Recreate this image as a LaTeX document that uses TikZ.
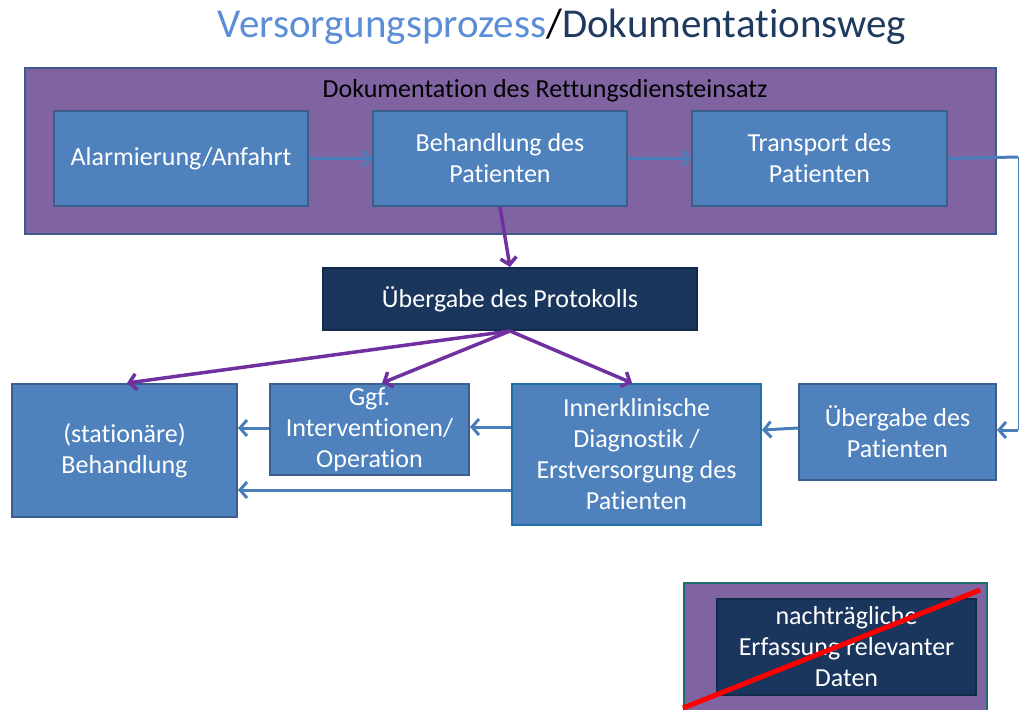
\documentclass[tikz,border=0pt]{standalone}
\usepackage{fontspec}
\setmainfont{Carlito}[Ligatures=NoCommon]
\usetikzlibrary{arrows.meta}
\definecolor{boxfill}{HTML}{4F81BD}
\definecolor{boxline}{HTML}{3A5F8E}
\definecolor{frame}{HTML}{8064A2}
\definecolor{frameline}{HTML}{3D5A8A}
\definecolor{navy}{HTML}{1B365D}
\definecolor{navyline}{HTML}{13294A}
\definecolor{flowpurple}{HTML}{7030A0}
\definecolor{flowblue}{HTML}{4A7EBB}
\definecolor{titleblue}{HTML}{5B8ED6}
\definecolor{titlenavy}{HTML}{1F3A5F}
\definecolor{tealline}{HTML}{1E6E6E}
\definecolor{innerline}{HTML}{1F6FA8}
\begin{document}
\begin{tikzpicture}[x=1pt,y=-1pt,
  stepbox/.style={draw=boxline, fill=boxfill, line width=2pt, text=white,
    align=center, inner sep=0pt, anchor=north west,
    font=\fontsize{26}{31}\selectfont},
  darkbox/.style={stepbox, draw=navyline, fill=navy},
  blueflow/.style={draw=flowblue, line width=3pt,
    -{Straight Barb[length=7pt,width=16pt,line width=3pt]}},
  purpleflow/.style={draw=flowpurple, line width=3.5pt,
    -{Straight Barb[length=7pt,width=16pt,line width=3.5pt]}}]
\useasboundingbox (0,0) rectangle (1019,709);

% title
\node (title) at (562,27) {\fontsize{41}{44}\selectfont
  \textcolor{titleblue}{Versorgungsprozess}\textcolor{black}{/}\textcolor{titlenavy}{Dokumentationsweg}};

% documentation frame with the three rescue steps
\node (frame) [draw=frameline, fill=frame, line width=2pt, anchor=north west,
  minimum width=971pt, minimum height=166pt, inner sep=0pt] at (24,67) {};
\node (framelabel) at (545,91) {\fontsize{26}{28}\selectfont Dokumentation des Rettungsdiensteinsatz};
\node (alarm) [stepbox, minimum width=254pt, minimum height=95pt] at (53,110) {Alarmierung/Anfahrt};
\node (treat) [stepbox, minimum width=254pt, minimum height=95pt] at (372,110) {Behandlung des\\Patienten};
\node (transp) [stepbox, minimum width=255pt, minimum height=95pt] at (691,110) {Transport des\\Patienten};

% protocol handover
\node (proto) [darkbox, minimum width=374pt, minimum height=62pt] at (322,267) {Übergabe des Protokolls};

% hospital steps
\node (stat) [stepbox, minimum width=225pt, minimum height=133pt] at (11,383) {(stationäre)\\Behandlung};
\node (interv) [stepbox, minimum width=199pt, minimum height=91pt] at (269,383) {Ggf.\\Interventionen/\\Operation};
\node (diag) [stepbox, draw=innerline, minimum width=249pt, minimum height=141pt] at (511,383) {Innerklinische\\Diagnostik /\\Erstversorgung des\\Patienten};
\node (handover) [stepbox, minimum width=197pt, minimum height=96pt] at (798,383) {Übergabe des\\Patienten};

% flow inside the rescue service
\draw[blueflow] (alarm.east) -- (treat.west);
\draw[blueflow] (treat.east) -- (transp.west);
\coordinate (turnA) at (1018,157);
\coordinate (turnB) at (1018,430);
\draw[draw=flowblue, line width=3pt] (transp.east) -- (turnA);
\draw[draw=flowblue, line width=1pt] (turnA) -- (turnB);
\draw[blueflow] (turnB) -- (handover.east |- turnB);

% flow inside the hospital
\draw[blueflow] (handover.west |- 0,428) -- (diag.east |- 0,430);
\draw[blueflow] (diag.west |- 0,427) -- (interv.east |- 0,427);
\draw[blueflow] (interv.west |- 0,428) -- (stat.east |- 0,428);
\draw[blueflow] (diag.west |- 0,490) -- (stat.east |- 0,490);

% distribution of the protocol
\draw[purpleflow] (treat.south) -- (proto.north);
\draw[purpleflow] (proto.south) -- (stat.north -| 127,0);
\draw[purpleflow] (proto.south) -- (interv.north -| 382,0);
\draw[purpleflow] (proto.south) -- (diag.north -| 632,0);

% subsequent data entry, struck out
\node (late) [draw=tealline, fill=frame, line width=2pt, anchor=north west,
  minimum width=303pt, minimum height=130pt, inner sep=0pt] at (683,582) {};
\node (latebox) [draw=navyline, fill=navy, line width=2pt, anchor=north west,
  minimum width=259pt, minimum height=96pt, inner sep=0pt, text=white, align=center,
  font=\fontsize{26}{31}\selectfont] at (716,598) {nachträgliche\\Erfassung relevanter\\Daten};
\coordinate (strikeA) at (683,708);
\coordinate (strikeB) at (980,590);
\draw[red, line width=5pt] (strikeA) -- (strikeB);
\end{tikzpicture}
\end{document}
